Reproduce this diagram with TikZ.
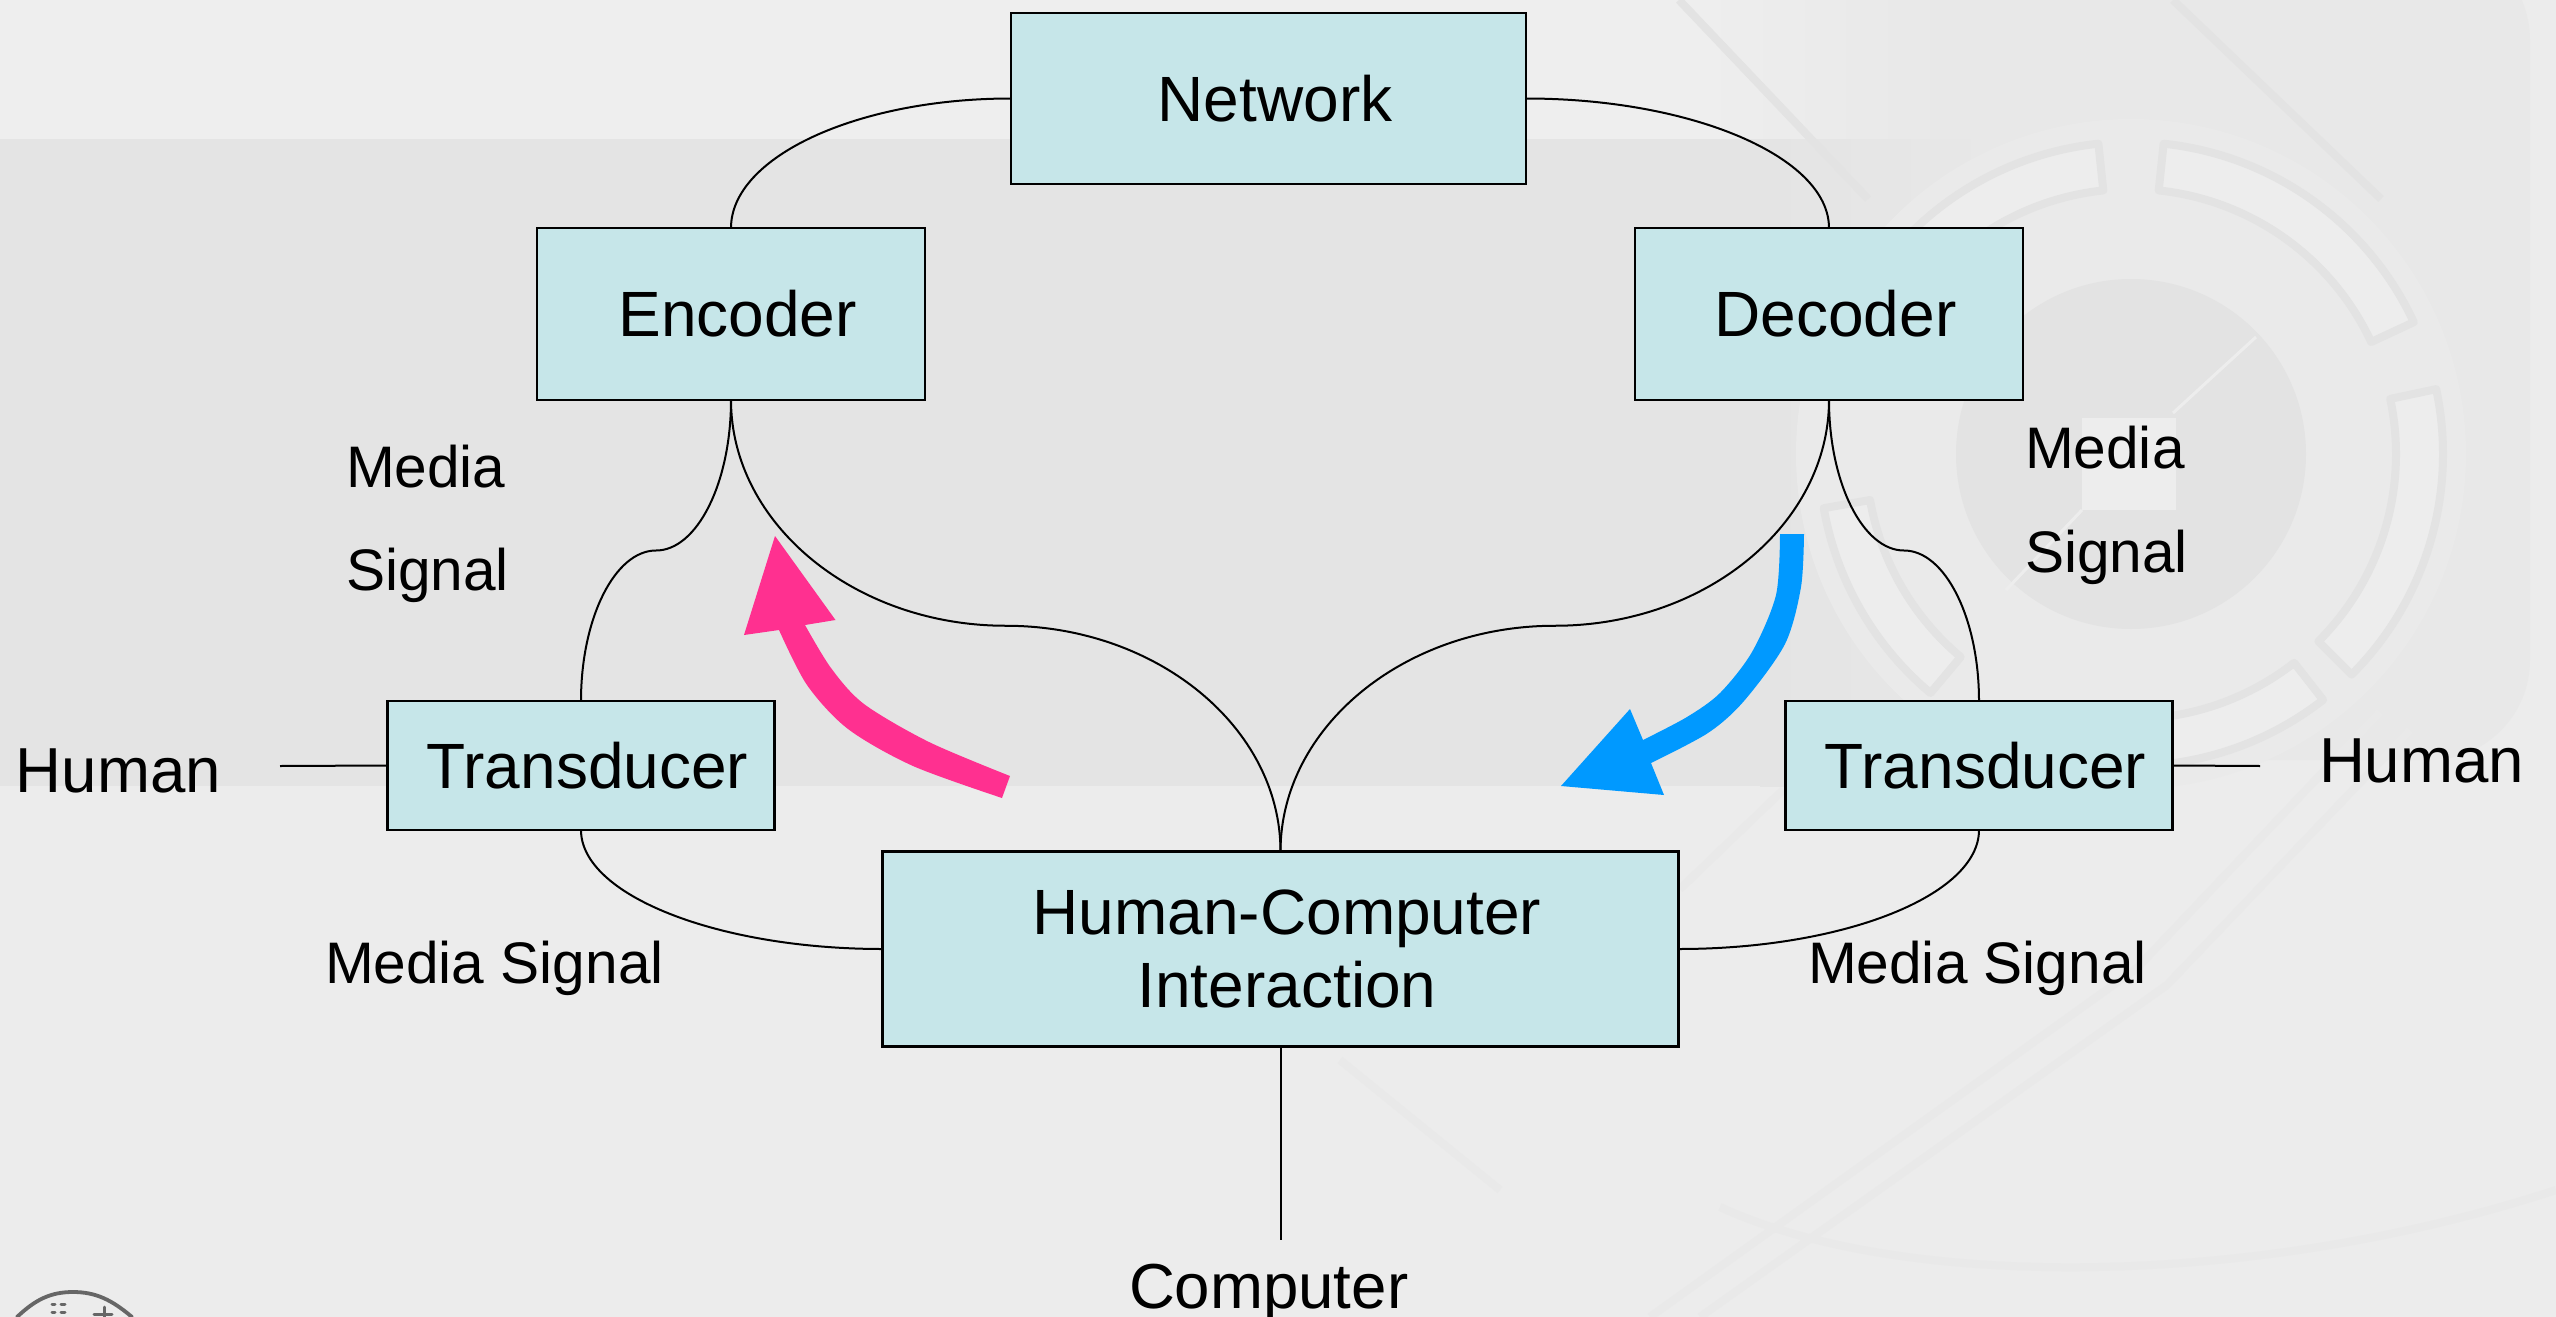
\documentclass[tikz,border=0pt]{standalone}
\usepackage{fontspec}
\setmainfont{Liberation Sans}
\usetikzlibrary{calc}
\definecolor{bgbase}{HTML}{ECECEC}
\definecolor{bgband}{HTML}{E4E4E4}
\definecolor{bgtop}{HTML}{EEEEEE}
\definecolor{boxfill}{HTML}{C6E6E9}
\definecolor{pinkarrow}{HTML}{FF3090}
\definecolor{bluearrow}{HTML}{0099FF}
\definecolor{markgray}{HTML}{E3E3E3}
\definecolor{ringlight}{HTML}{EDEDED}
\definecolor{wmA}{HTML}{E8E8E8}
\definecolor{wmB}{HTML}{EAEAEA}
\definecolor{wmC}{HTML}{E3E3E3}
\definecolor{wmD}{HTML}{EDEDED}
\definecolor{wmE}{HTML}{E9E9E9}
\definecolor{logogray}{HTML}{666666}
\newcommand{\bt}[1]{\hspace*{6.5pt}#1}
\tikzset{
  box/.style={draw=black,fill=boxfill,line width=1.25pt,inner sep=0pt,outer sep=0pt,anchor=center,
    font=\fontsize{32}{36.5}\selectfont,text height=22.8pt,text depth=0pt},
  hcibox/.style={draw=black,fill=boxfill,line width=1.25pt,inner sep=0pt,outer sep=0pt,anchor=center,
    font=\fontsize{32}{36.5}\selectfont,align=center},
  lab/.style={inner sep=0pt,outer sep=0pt,anchor=base west,font=\fontsize{31.8}{36.5}\selectfont},
  smalllab/.style={inner sep=0pt,outer sep=0pt,anchor=base west,font=\fontsize{29.3}{33}\selectfont},
  wire/.style={draw=black,line width=1pt},
  seg/.style={fill=ringlight,draw=markgray,line width=4pt,line join=round},
  stripe/.style={draw=markgray,line width=4pt},
  softline/.style={draw=wmE,line width=4pt},
  logo/.style={draw=logogray,line cap=round},
}
\begin{document}
\begin{tikzpicture}[x=0.5pt,y=-0.5pt]
\useasboundingbox (0,0) rectangle (2556,1317);
% background
\fill[bgbase] (0,0) rectangle (2556,1317);
\fill[bgtop] (0,0) rectangle (1700,139);
\fill[wmA,rounded corners=50pt] (1700,-60) rectangle (2530,760);
\fill[left color=bgtop,right color=wmA] (1700,0) rectangle (1950,139);
\fill[bgband] (0,139) rectangle (1760,786);
\fill[left color=bgband,right color=wmA] (1760,139) rectangle (2000,760);
\fill[left color=bgband,right color=bgbase] (1760,760) rectangle (2100,786);
\draw[stripe] (1679,0) -- (1868,199);
\draw[stripe] (2173,0) -- (2381,199);
\begin{scope}[shift={(2131,454)}]
\begin{scope}[y=0.5pt]
\fill[wmB] (0,0) circle[radius=335];
\fill[wmC] (0,0) circle[radius=175];
\foreach \a/\b in {84/25,150/96,12/-45,-52/-85,230/190}{
  \filldraw[seg] (\a:265) arc[start angle=\a,end angle=\b,radius=265]
     -- (\b:312) arc[start angle=\b,end angle=\a,radius=312] -- cycle;
}
\end{scope}
\end{scope}
\fill[wmD] (2082,418) rectangle (2176,510);
\draw[wmD,line width=1.5pt] (2173,413) -- (2256,337);
\draw[wmD,line width=1.5pt] (2082,510) -- (2006,590);
\draw[softline] (2380,712) -- (2137,968) -- (1650,1317);
\draw[softline] (2410,730) -- (2167,985) -- (1700,1317);
\draw[softline] (1783,790) -- (1680,889);
\draw[softline] (1720,1207) .. controls (1900,1290) and (2250,1290) .. (2556,1190);
\draw[softline] (1340,1060) -- (1500,1190);
% logo
\draw[logo,line width=1.9pt] (17,1317) .. controls (35,1300) and (50,1292) .. (73,1292) .. controls (96,1292) and (112,1300) .. (132,1317);
\draw[logo,line width=1.5pt] (52,1304) -- (55,1304) (61,1304) -- (65,1304) (52,1312) -- (55,1312) (61,1312) -- (65,1312) (104,1307) -- (104,1317) (94,1314) -- (112,1314);
% boxes
\node[box,minimum width=257.5pt,minimum height=85.5pt] (net) at (1268.5,98.5) {\bt{Network}};
\node[box,minimum width=194pt,minimum height=86pt] (enc) at (731,314) {\bt{Encoder}};
\node[box,minimum width=194pt,minimum height=86pt] (dec) at (1829,314) {\bt{Decoder}};
\node[box,minimum width=193.5pt,minimum height=64.5pt] (transl) at (581,765.5) {\bt{Transducer}};
\node[box,minimum width=193.5pt,minimum height=64.5pt] (transr) at (1979,765.5) {\bt{Transducer}};
\node[hcibox,minimum width=398pt,minimum height=97.5pt] (hci) at (1280.5,949) {\bt{Human-Computer}\\\bt{Interaction}};
% free labels
\node[lab] (humanl) at (16,792) {Human};
\node[lab] (humanr) at (2319,782) {Human};
\node[lab] (comp) at (1129,1308) {Computer};
\node[smalllab] (medial) at (346,487) {Media};
\node[smalllab] (signall) at (346,590) {Signal};
\node[smalllab] (mediar) at (2025,468) {Media};
\node[smalllab] (signalr) at (2025,572) {Signal};
\node[smalllab] (msl) at (325,983) {Media Signal};
\node[smalllab] (msr) at (1808,983) {Media Signal};
% connector ends
\coordinate (hlend) at (280,766);
\coordinate (hrend) at (2260,766);
\coordinate (cend) at (1280.5,1240);
\coordinate (mel) at ($(enc.south)!0.5!(transl.north)$);
\coordinate (meh) at ($(enc.south)!0.5!(hci.north)$);
\coordinate (mdr) at ($(dec.south)!0.5!(transr.north)$);
\coordinate (mdh) at ($(dec.south)!0.5!(hci.north)$);
% connectors
\draw[wire] (net.west) .. controls +(-154,0) and +(0,-71) .. (enc.north);
\draw[wire] (net.east) .. controls +(166,0) and +(0,-71) .. (dec.north);
\draw[wire] (enc.south) .. controls +(0,83) and +(41,0) .. (mel) .. controls +(-41,0) and +(0,-83) .. (transl.north);
\draw[wire] (enc.south) .. controls +(0,124) and +(-151,0) .. (meh) .. controls +(151,0) and +(0,-124) .. (hci.north);
\draw[wire] (dec.south) .. controls +(0,83) and +(-41,0) .. (mdr) .. controls +(41,0) and +(0,-83) .. (transr.north);
\draw[wire] (dec.south) .. controls +(0,124) and +(151,0) .. (mdh) .. controls +(-151,0) and +(0,-124) .. (hci.north);
\draw[wire] (transl.south) .. controls +(0,65) and +(-165,0) .. (hci.west);
\draw[wire] (transr.south) .. controls +(0,65) and +(166,0) .. (hci.east);
\draw[wire] (hlend) -- (transl.west);
\draw[wire] (hrend) -- (transr.east);
\draw[wire] (hci.south) -- (cend);
% fat arrows
\fill[pinkarrow] (775,536) -- (835.5,620) -- (805,625) -- plot[smooth] coordinates {(805,625) (831,668) (864,704) (929,742) (1010,776)} -- (1002,798) -- plot[smooth] coordinates {(1002,798) (913,766) (848,729) (807,685) (779,630)} -- (744,635) -- cycle;
\fill[bluearrow] (1780,534) -- (1804,534) -- plot[smooth] coordinates {(1804,534) (1801,587) (1785,644) (1744,701) (1708,733) (1651,763)} -- (1664,795) -- (1561,786) -- (1630,709) -- (1643,740) -- plot[smooth] coordinates {(1643,740) (1687,717) (1720,693) (1752,652) (1776,595) (1780,534)} -- cycle;
\end{tikzpicture}
\end{document}
